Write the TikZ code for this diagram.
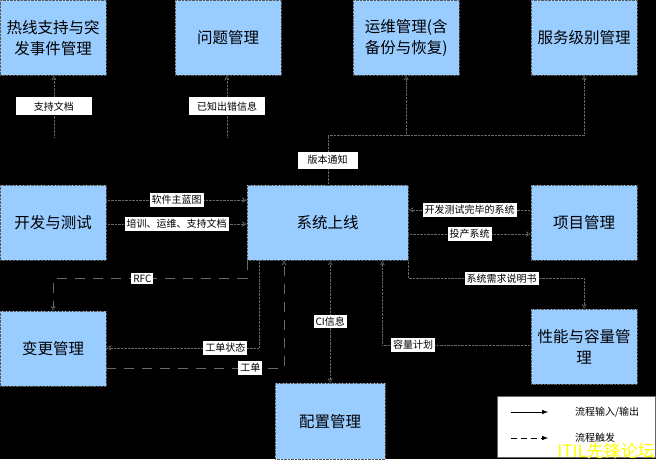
\documentclass[tikz,border=0pt]{standalone}
\usepackage{fontspec}
\newfontfamily\cjk{Noto Sans CJK SC}
\usepackage{tikz}
\usetikzlibrary{positioning}
\usetikzlibrary{arrows.meta}
\usepackage{xcolor}
\definecolor{boxblue}{RGB}{153,204,255}
\definecolor{linegray}{RGB}{105,105,105}
\definecolor{markyellow}{RGB}{255,255,0}
\tikzset{
  proc/.style={draw=black!65, densely dotted, fill=boxblue, anchor=north west,
    minimum width=106pt, minimum height=75pt, inner sep=0pt, align=center,
    font=\cjk\fontsize{15.5}{21}\selectfont},
  io/.style={draw=linegray, densely dotted},
  trig/.style={draw=linegray, dash pattern=on 10pt off 8pt},
  lbl/.style={fill=white, text=black, inner sep=2pt, solid,
    font=\cjk\fontsize{10}{12}\selectfont},
  wide/.style={minimum width=76pt, minimum height=18pt},
}

\begin{document}
\begin{tikzpicture}[x=1pt, y=-1pt, >={Stealth[length=5pt, width=5pt, open]}]
	\fill[black] (0,0) rectangle (656,459);
	\useasboundingbox (0,0) rectangle (656,459);
	% boxes
	\node[proc] (hotline) at (0,0) {热线支持与突\\发事件管理};
	\node[proc] (problem) at (175,0) {问题管理};
	\node[proc] (ops) at (353,0) {运维管理(含\\备份与恢复)};
	\node[proc] (slm) at (531,0) {服务级别管理};
	\node[proc] (dev) at (0,185) {开发与测试};
	\node[proc, minimum width=161pt] (golive) at (247,185) {系统上线};
	\node[proc] (project) at (531,185) {项目管理};
	\node[proc] (change) at (0,311) {变更管理};
	\node[proc, minimum width=110pt, minimum height=76pt] (config) at (275,383) {配置管理};
	\node[proc] (capacity) at (531,309) {性能与容量管\\理};
	% upper links
	\coordinate (hotlineEnd) at (54,137);
	\coordinate (problemEnd) at (227,137);
	\coordinate (relbus) at (0,135);
	\draw[io, ->] (hotlineEnd) -- node[lbl, wide] {支持文档} (hotlineEnd |- hotline.south);
	\draw[io, ->] (problemEnd) -- node[lbl, wide] {已知出错信息} (problemEnd |- problem.south);
	\draw[io, ->] (golive.north) -- node[lbl, minimum width=60pt, minimum height=17pt] {版本通知} (golive.north |- relbus) -| (slm.south);
	\draw[io, ->] (ops.south |- relbus) -- (ops.south);
	% left links
	\draw[io, ->] ([yshift=-15pt]dev.north east) -- node[lbl] {软件主蓝图} ([yshift=-15pt]golive.north west);
	\draw[io, ->] ([yshift=-39pt]dev.north east) -- node[lbl] {培训、运维、支持文档} ([yshift=-39pt]golive.north west);
	\draw[trig, ->] (golive.south west) -- ++(0,18) -| node[lbl, pos=0.27] {RFC} (change.north);
	\draw[io, ->] ([xshift=12pt]golive.south west) |- node[lbl, pos=0.61] {工单状态} ([yshift=-37pt]change.north east);
	\draw[trig, ->] ([yshift=-57pt]change.north east) -| node[lbl, pos=0.405] {工单} ([xshift=37pt]golive.south west);
	% lower and right links
	\draw[io, <->] (config.north) -- node[lbl] {CI信息} (config.north |- golive.south);
	\draw[io, ->] ([yshift=-36pt]capacity.north west) -| node[lbl, pos=0.397] {容量计划} ([xshift=-26pt]golive.south east);
	\draw[io, ->] (golive.south east) -- ++(0,18) -| node[lbl, pos=0.265] {系统需求说明书} (capacity.north);
	\draw[io, ->] ([yshift=-25pt]project.north west) -- node[lbl] {开发测试完毕的系统} ([yshift=-25pt]golive.north east);
	\draw[io, ->] ([yshift=-49pt]golive.north east) -- node[lbl] {投产系统} ([yshift=-49pt]project.north west);
	% legend
	\node[draw=black!60, fill=white, anchor=north west, minimum width=158pt, minimum height=61pt] (legend) at (497,396) {};
	\coordinate (inA) at (511,412);
	\coordinate (inB) at (548,412);
	\coordinate (trA) at (511,438);
	\coordinate (trB) at (548,438);
	\draw[-{Latex[length=6pt]}] (inA) -- (inB);
	\draw[-{Latex[length=6pt]}, dash pattern=on 6pt off 4pt] (trA) -- (trB);
	\node[anchor=west, inner sep=0pt, font=\cjk\fontsize{10}{12}\selectfont] (inText) at (575,412) {流程输入/输出};
	\node[anchor=west, inner sep=0pt, font=\cjk\fontsize{10}{12}\selectfont] (trText) at (575,438) {流程触发};
	\node[anchor=south east, inner sep=1pt, text=markyellow, font=\cjk\fontsize{17}{19}\selectfont] (mark) at (656,460) {ITIL先锋论坛};
\end{tikzpicture}
\end{document}
